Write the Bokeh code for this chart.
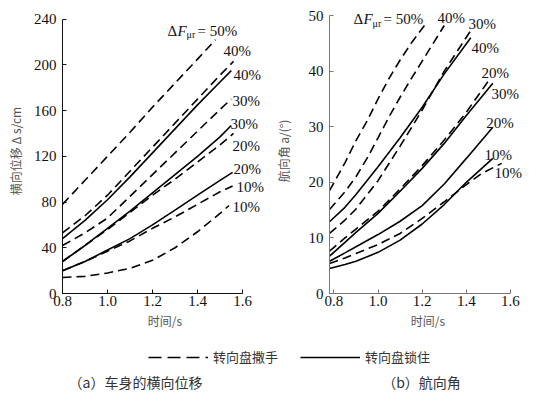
from bokeh.plotting import figure
from bokeh.layouts import column, row
from bokeh.models import Range1d, Legend, LegendItem, FixedTicker, PrintfTickFormatter
from bokeh.core.properties import value
from bokeh.embed import file_html
from bokeh.resources import INLINE

# ---------------- (a) 车身的横向位移 (cm) ----------------
a_t_d50 = [0.8, 0.9, 1.0, 1.1, 1.2, 1.3, 1.4, 1.48]
a_d50 = [78, 99, 120, 141, 163, 184, 205, 222]
a_t_d40 = [0.8, 0.9, 1.0, 1.1, 1.2, 1.3, 1.4, 1.5, 1.56]
a_d40 = [53, 68, 86, 107, 128, 149, 170, 191, 203]
a_t_s40 = [0.8, 0.9, 1.0, 1.1, 1.2, 1.3, 1.4, 1.5, 1.55]
a_s40 = [48, 64, 82, 102, 123, 144, 165, 185, 195]
a_t_d30 = [0.8, 0.9, 1.0, 1.1, 1.2, 1.3, 1.4, 1.5, 1.55]
a_d30 = [42, 53, 66, 85, 104, 123, 142, 161, 170]
a_t_s30 = [0.8, 0.9, 1.0, 1.1, 1.2, 1.3, 1.4, 1.5, 1.55]
a_s30 = [28, 42, 57, 72, 88, 104, 120, 137, 147]
a_t_d20 = [0.8, 0.9, 1.0, 1.1, 1.2, 1.3, 1.4, 1.5, 1.56]
a_d20 = [28, 42, 56, 71, 86, 100, 115, 130, 140]
a_t_s20 = [0.8, 0.9, 1.0, 1.1, 1.2, 1.3, 1.4, 1.5, 1.556]
a_s20 = [20, 28, 38, 48, 60, 73, 86, 99, 106]
a_t_d10a = [0.8, 0.9, 1.0, 1.1, 1.2, 1.3, 1.4, 1.5, 1.556]
a_d10a = [20, 28, 37, 46, 57, 67, 78, 89, 94]
a_t_d10b = [0.8, 0.9, 1.0, 1.1, 1.2, 1.3, 1.4, 1.5, 1.54]
a_d10b = [14, 15, 18, 22, 29, 40, 54, 70, 77]

a_lab_text = ["40%", "40%", "30%", "30%", "20%", "20%", "10%", "10%"]
a_lab_t = [1.516, 1.56, 1.556, 1.547, 1.556, 1.56, 1.573, 1.556]
a_lab_v = [212, 191, 168, 148, 129, 109, 93, 76]
a_head_t, a_head_v = 1.267, 230

# ---------------- (b) 航向角 (°) ----------------
b_t_d50 = [0.78, 0.85, 0.9, 0.95, 1.0, 1.05, 1.1, 1.15, 1.21]
b_d50 = [18.5, 23.5, 27.5, 31.0, 35.0, 38.7, 42.0, 45.0, 48.2]
b_t_d40 = [0.78, 0.85, 0.9, 0.95, 1.0, 1.05, 1.1, 1.15, 1.2, 1.25, 1.3]
b_d40 = [15.1, 18.3, 21.0, 24.3, 28.0, 31.8, 35.3, 38.6, 41.8, 45.0, 48.2]
b_t_s40 = [0.78, 0.85, 0.9, 1.0, 1.1, 1.2, 1.3, 1.42]
b_s40 = [12.9, 15.5, 17.8, 22.8, 28.0, 33.5, 39.5, 46.0]
b_t_d30 = [0.78, 0.85, 0.9, 1.0, 1.1, 1.2, 1.3, 1.42]
b_d30 = [10.8, 13.2, 15.2, 20.3, 26.5, 33.0, 40.0, 47.3]
b_t_d20 = [0.78, 0.85, 0.9, 1.0, 1.1, 1.2, 1.3, 1.4, 1.51]
b_d20 = [7.6, 10.0, 11.6, 14.8, 18.8, 23.0, 27.6, 32.6, 38.8]
b_t_s30 = [0.78, 0.85, 0.9, 1.0, 1.1, 1.2, 1.3, 1.4, 1.52]
b_s30 = [6.7, 9.2, 11.0, 14.4, 18.4, 22.5, 27.0, 32.0, 37.8]
b_t_s20 = [0.78, 0.85, 0.9, 1.0, 1.1, 1.2, 1.3, 1.4, 1.52]
b_s20 = [5.8, 7.3, 8.4, 10.6, 13.0, 15.8, 19.7, 24.3, 29.9]
b_t_s10 = [0.78, 0.85, 0.9, 1.0, 1.1, 1.2, 1.3, 1.4, 1.52]
b_s10 = [4.5, 5.2, 5.8, 7.4, 9.6, 12.5, 16.0, 20.0, 24.3]
b_t_d10 = [0.78, 0.85, 0.9, 1.0, 1.1, 1.2, 1.3, 1.4, 1.47, 1.56]
b_d10 = [5.4, 6.4, 7.2, 8.8, 10.8, 13.5, 16.5, 19.6, 21.6, 23.4]

b_lab_text = ["40%", "30%", "40%", "20%", "30%", "20%", "10%", "10%"]
b_lab_t = [1.269, 1.41, 1.423, 1.469, 1.514, 1.49, 1.482, 1.528]
b_lab_v = [49.6, 48.4, 44.1, 39.6, 35.8, 30.6, 25.0, 21.6]
b_head_t, b_head_v = 0.889, 49.3

x_ticks = [0.8, 1.0, 1.2, 1.4, 1.6]
a_y_ticks = [0, 40, 80, 120, 160, 200, 240]
b_y_ticks = [0, 10, 20, 30, 40, 50]

SERIF = "Liberation Serif"
CJK = "Noto Sans CJK SC"
DASH = "9 5"
LW = 1.6
H = 346
FS = "15px"


def style_axes(p, xbounds, ybounds, yticks, ylabel, color, y_standoff, y_lab_standoff):
    p.grid.visible = False
    p.outline_line_color = None
    p.xaxis.bounds = xbounds
    p.yaxis.bounds = ybounds
    p.xaxis.ticker = FixedTicker(ticks=x_ticks)
    p.xaxis.formatter = PrintfTickFormatter(format="%.1f")
    p.yaxis.ticker = FixedTicker(ticks=yticks)
    for ax in (p.xaxis, p.yaxis):
        ax.axis_line_color = color
        ax.major_tick_line_color = color
        ax.major_tick_in = 4
        ax.major_tick_out = 0
        ax.minor_tick_line_color = None
        ax.major_label_text_font = SERIF
        ax.major_label_text_font_size = FS
        ax.major_label_text_color = "#111111"
        ax.axis_label_text_font = CJK
        ax.axis_label_text_font_size = "12px"
        ax.axis_label_text_font_style = "normal"
        ax.axis_label_text_color = "#555555"
    p.xaxis.axis_label = "时间/s"
    p.xaxis.major_label_standoff = 2
    p.xaxis.axis_label_standoff = 3
    p.yaxis.axis_label = ylabel
    p.yaxis.major_label_standoff = y_standoff
    p.yaxis.axis_label_standoff = y_lab_standoff


def head_label(p, x, y):
    kw = dict(text_font=value(SERIF), text_baseline="middle", text_align="left",
              text_color="#111111")
    p.text(x=[x], y=[y], text=["Δ"], text_font_size=FS, **kw)
    p.text(x=[x], y=[y], text=["F"], x_offset=10, text_font_size=FS,
           text_font_style="italic", **kw)
    p.text(x=[x], y=[y], text=["μr"], x_offset=19, y_offset=4,
           text_font_size="10px", **kw)
    p.text(x=[x], y=[y], text=["= 50%"], x_offset=30, text_font_size=FS, **kw)


# ---------- panel (a) ----------
pa = figure(width=271, height=H, output_backend="svg", toolbar_location=None,
            x_range=Range1d(0.8, 1.711), y_range=Range1d(0, 249.3),
            min_border_left=62, min_border_right=4, min_border_top=8,
            min_border_bottom=H - 302)
style_axes(pa, (0.8, 1.6), (0, 240), a_y_ticks, "横向位移 Δ s/cm", "#111111", 6, 7)

for t, v, dash in [(a_t_d50, a_d50, DASH), (a_t_d40, a_d40, DASH), (a_t_s40, a_s40, "solid"),
                   (a_t_d30, a_d30, DASH), (a_t_s30, a_s30, "solid"), (a_t_d20, a_d20, DASH),
                   (a_t_s20, a_s20, "solid"), (a_t_d10a, a_d10a, DASH), (a_t_d10b, a_d10b, DASH)]:
    pa.line(t, v, line_color="black", line_width=LW, line_dash=dash)

pa.text(x=a_lab_t, y=a_lab_v, text=a_lab_text, text_font=value(SERIF),
        text_font_size=FS, text_baseline="middle", text_align="left",
        text_color="#111111")
head_label(pa, a_head_t, a_head_v)

# ---------- panel (b) ----------
pb = figure(width=271, height=H, output_backend="svg", toolbar_location=None,
            x_range=Range1d(0.78, 1.6726), y_range=Range1d(0, 51.26),
            min_border_left=58, min_border_right=16, min_border_top=8,
            min_border_bottom=H - 293)
style_axes(pb, (0.78, 1.6), (0, 50), b_y_ticks, "航向角 a/(°)", "#777777", 6, 14)

for t, v, dash in [(b_t_d50, b_d50, DASH), (b_t_d40, b_d40, DASH), (b_t_s40, b_s40, "solid"),
                   (b_t_d30, b_d30, DASH), (b_t_d20, b_d20, DASH), (b_t_s30, b_s30, "solid"),
                   (b_t_s20, b_s20, "solid"), (b_t_s10, b_s10, "solid"), (b_t_d10, b_d10, DASH)]:
    pb.line(t, v, line_color="black", line_width=LW, line_dash=dash)

pb.text(x=b_lab_t, y=b_lab_v, text=b_lab_text, text_font=value(SERIF),
        text_font_size=FS, text_baseline="middle", text_align="left",
        text_color="#111111")
head_label(pb, b_head_t, b_head_v)

# ---------- legend + captions ----------
pc = figure(width=542, height=396 - H, output_backend="svg", toolbar_location=None,
            x_range=Range1d(0, 542), y_range=Range1d(0, 396 - H),
            min_border_left=0, min_border_right=0, min_border_top=0,
            min_border_bottom=0)
pc.axis.visible = False
pc.grid.visible = False
pc.outline_line_color = None
r_d = pc.line([-100, -90], [-100, -100], line_color="black", line_width=LW, line_dash="13 6")
r_s = pc.line([-100, -90], [-100, -100], line_color="black", line_width=LW)
leg = Legend(items=[LegendItem(label="转向盘撒手", renderers=[r_d]),
                    LegendItem(label="转向盘锁住", renderers=[r_s])],
             orientation="horizontal", location=(148, 30), padding=0, margin=0,
             spacing=22, glyph_width=60, glyph_height=18, label_standoff=5,
             label_text_font=CJK, label_text_font_size="13px",
             label_text_color="#333333", border_line_alpha=0,
             background_fill_alpha=0)
pc.add_layout(leg)

captions = ["（a）车身的横向位移", "（b）航向角"]
caption_x = [135, 421]
caption_y = [15, 15]
pc.text(x=caption_x, y=caption_y, text=captions, text_font=value(CJK),
        text_font_size="14px", text_align="center", text_baseline="middle",
        text_color="#333333")

layout = column(row(pa, pb), pc)
open("out.html", "w").write(file_html(layout, INLINE))
